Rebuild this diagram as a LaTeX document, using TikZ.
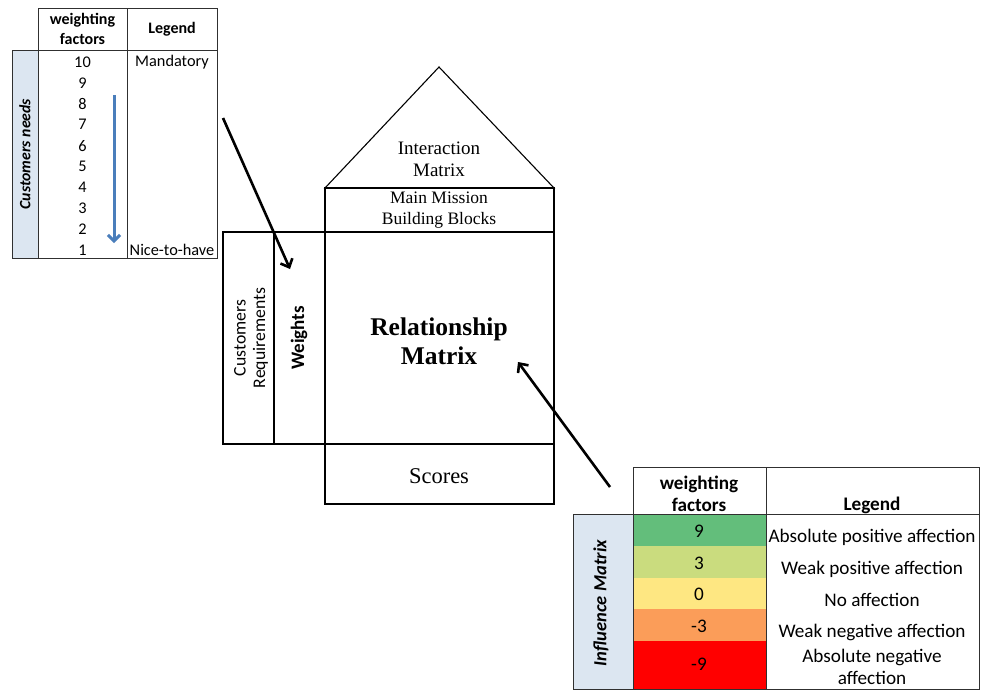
\documentclass[tikz,border=0pt]{standalone}
\usepackage{fontspec}
\setmainfont{Liberation Serif}
\newfontfamily\calib{Carlito}
\usetikzlibrary{arrows.meta}
\definecolor{sidebl}{HTML}{DCE6F1}
\definecolor{arrbl}{HTML}{4A7EBB}
\definecolor{gr9}{HTML}{63BE7B}
\definecolor{gr3}{HTML}{CADC7E}
\definecolor{ye0}{HTML}{FEE782}
\definecolor{or3}{HTML}{FB9D59}
\definecolor{re9}{HTML}{FF0000}
\definecolor{gridc}{HTML}{303030}
\tikzset{
  cellline/.style={draw=gridc, line width=0.9pt},
  houseline/.style={draw=black, line width=1.1pt},
  tbltxt/.style={font=\calib\fontsize{16.3}{20}\selectfont, inner sep=0pt},
  tbltxtL/.style={font=\calib\fontsize{19.2}{22}\selectfont, inner sep=0pt, align=center},
  housetxt/.style={font=\fontsize{19}{22}\selectfont, align=center, inner sep=0pt},
  pointer/.style={line width=2.6pt, -{Straight Barb[length=7pt,width=13pt,line width=2.6pt]}},
}
\begin{document}
\begin{tikzpicture}[x=1pt,y=-1pt]
\useasboundingbox (0,0) rectangle (984,689);
\fill[white] (0,0) rectangle (984,689);

% ---- weighting table for customer needs ----
\fill[sidebl] (12,50) rectangle (38,258);
\draw[cellline] (12,50) rectangle (38,258);
\draw[cellline] (38,8) rectangle (217,258);
\draw[cellline] (38,50) -- (217,50);
\draw[cellline] (127,8) -- (127,258);
\node[tbltxt, font=\calib\bfseries\fontsize{16}{20}\selectfont, align=center] (wfh) at (82.5,29) {weighting\\factors};
\node[tbltxt, font=\calib\bfseries\fontsize{16}{20}\selectfont] (lgh) at (172,29) {Legend};
\node[tbltxt, rotate=90, font=\calib\bfseries\itshape\fontsize{15.8}{18}\selectfont] (cn) at (25,154) {Customers needs};
\foreach \v [count=\i from 0] in {10,9,8,7,6,5,4,3,2,1}
  \node[tbltxt] (w\v) at (82.5,62+20.9*\i) {\v};
\node[tbltxt] (mand) at (172,62) {Mandatory};
\node[tbltxt] (nice) at (172,250) {Nice-to-have};
\coordinate (ba1) at (114,95);
\coordinate (ba2) at (114,243);
\draw[arrbl, line width=3pt, -{Straight Barb[length=6pt,width=12pt,line width=3pt]}] (ba1) -- (ba2);

% ---- house of quality ----
\coordinate (apex) at (439,67);
\coordinate (rl) at (325,188);
\coordinate (rr) at (554,188);
\draw[houseline] (rl) -- (apex) -- (rr) -- cycle;
\draw[houseline] (325,188) rectangle (554,232);
\draw[houseline] (325,232) rectangle (554,444);
\draw[houseline] (325,444) rectangle (554,504);
\draw[houseline] (223,232) rectangle (325,444);
\draw[houseline] (274,232) -- (274,444);
\node[housetxt] (inter) at (439,159) {Interaction\\Matrix};
\node[housetxt, font=\fontsize{17.5}{21}\selectfont] (mm) at (439,210) {Main Mission\\Building Blocks};
\node[housetxt, font=\bfseries\fontsize{25.5}{29}\selectfont] (rel) at (439,341) {Relationship\\Matrix};
\node[housetxt, font=\fontsize{22.5}{24}\selectfont] (sc) at (439,476) {Scores};
\node[housetxt, rotate=90, font=\calib\fontsize{17.7}{19.5}\selectfont] (cr) at (251,338) {Customers\\Requirements};
\node[housetxt, rotate=90, font=\calib\bfseries\fontsize{19}{19}\selectfont] (wt) at (299,338) {Weights};

% ---- influence matrix table ----
\fill[sidebl] (573,514) rectangle (633,689);
\draw[cellline] (573,514) rectangle (633,689);
\fill[gr9] (633,514) rectangle (766,546);
\fill[gr3] (633,546) rectangle (766,578);
\fill[ye0] (633,578) rectangle (766,609);
\fill[or3] (633,609) rectangle (766,641);
\fill[re9] (633,641) rectangle (766,689);
\draw[cellline] (633,467) rectangle (979,689);
\draw[cellline] (633,514) -- (979,514);
\draw[cellline] (766,467) -- (766,689);
\node[tbltxtL, font=\calib\bfseries\fontsize{19.2}{22}\selectfont] (wfh2) at (699,494) {weighting\\factors};
\node[tbltxtL, font=\calib\bfseries\fontsize{19.2}{22}\selectfont] (lgh2) at (872,505) {Legend};
\node[tbltxtL, rotate=90, font=\calib\bfseries\itshape\fontsize{18.5}{22}\selectfont] (im) at (601,603) {Influence Matrix};
\node[tbltxtL] (f9) at (699,531) {9};
\node[tbltxtL] (f3) at (699,563) {3};
\node[tbltxtL] (f0) at (699,594) {0};
\node[tbltxtL] (fm3) at (699,626) {-3};
\node[tbltxtL] (fm9) at (699,664) {-9};
\node[tbltxtL] (l9) at (872,537) {Absolute positive affection};
\node[tbltxtL] (l3) at (872,569) {Weak positive affection};
\node[tbltxtL] (l0) at (872,600) {No affection};
\node[tbltxtL] (lm3) at (872,632) {Weak negative affection};
\node[tbltxtL, font=\calib\fontsize{19.2}{22}\selectfont] (lm9) at (872,667) {Absolute negative\\affection};

% ---- pointers ----
\coordinate (p1s) at (223,118);
\coordinate (p1e) at (290,269);
\coordinate (p2s) at (610,487);
\coordinate (p2e) at (518,362);
\draw[pointer] (p1s) -- (p1e);
\draw[pointer] (p2s) -- (p2e);
\end{tikzpicture}
\end{document}
